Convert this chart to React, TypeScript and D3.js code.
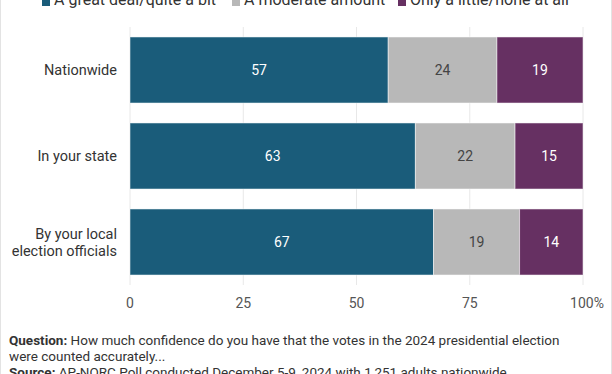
import React from 'react';
import * as d3 from 'd3';

// Chart data
const categories = ['Nationwide', 'In your state', 'By your local election officials'];
const seriesNames = ['A great deal/quite a bit', 'A moderate amount', 'Only a little/none at all'];
const greatDeal = [57, 63, 67];
const moderate = [24, 22, 19];
const littleNone = [19, 15, 14];
const xTicks = [0, 25, 50, 75, 100];

const colors = ['#1a5c7a', '#b8b8b8', '#663062'];
const labelColors = ['#ffffff', '#444444', '#ffffff'];

const width = 612;
const height = 374;
const font = 'Roboto, "Noto Sans", sans-serif';

export default function App() {
  const margin = { top: 27, left: 130, right: 29 };

  const x = d3.scaleLinear().domain([0, 100]).range([margin.left, width - margin.right]);
  const y = d3.scaleBand().domain(categories).range([27, 285]).paddingInner(0.232).paddingOuter(0.116);

  const rows = categories.map((c, i) => ({ cat: c, values: [greatDeal[i], moderate[i], littleNone[i]] }));
  const stack = d3.stack<any>().keys(['0', '1', '2'])(rows.map(r => ({ ...r.values })));

  const catLines: { [k: string]: string[] } = {
    'By your local election officials': ['By your local', 'election officials'],
  };

  const legendX = [42, 232, 398];

  return (
    <svg width={width} height={height} style={{ position: 'fixed', left: 0, top: 0, background: '#fff' }} fontFamily={font}>
      <rect x={0} y={0} width={width} height={height} fill="#fff" />
      <line x1={0.5} x2={0.5} y1={0} y2={height} stroke="#e3e3e3" />
      <line x1={611.5} x2={611.5} y1={0} y2={height} stroke="#e3e3e3" />

      {/* legend */}
      {seriesNames.map((s, i) => (
        <g key={s}>
          <rect x={legendX[i]} y={-3} width={8} height={9} fill={colors[i]} />
          <text x={legendX[i] + 12} y={5} fontSize={16} fill="#333">{s}</text>
        </g>
      ))}

      {/* gridlines */}
      {xTicks.map(t => (
        <line key={t} x1={x(t)} x2={x(t)} y1={margin.top} y2={285} stroke="#e8e8e8" strokeWidth={1} />
      ))}

      {/* bars */}
      {stack.map((layer, si) =>
        layer.map((d, ci) => {
          const cat = categories[ci];
          const x0 = x(d[0]);
          const x1 = x(d[1]);
          const by = y(cat)!;
          const bh = y.bandwidth();
          return (
            <g key={`${si}-${ci}`}>
              <rect x={x0} y={by} width={x1 - x0} height={bh} fill={colors[si]} stroke="#ffffff" strokeOpacity={0.5} strokeWidth={1} />
              <text x={(x0 + x1) / 2} y={by + bh / 2} dy="0.35em" textAnchor="middle" fontSize={14} fill={labelColors[si]}>
                {d[1] - d[0]}
              </text>
            </g>
          );
        })
      )}

      {/* category labels */}
      {categories.map(c => {
        const lines = catLines[c] || [c];
        const cy = y(c)! + y.bandwidth() / 2;
        return (
          <text key={c} x={117} textAnchor="end" fontSize={14.5} fill="#333">
            {lines.map((l, li) => (
              <tspan key={li} x={117} y={cy + (li - (lines.length - 1) / 2) * 17} dy="0.35em">{l}</tspan>
            ))}
          </text>
        );
      })}

      {/* x tick labels */}
      {xTicks.map(t => (
        <text key={t} x={t === 100 ? x(t) + 4 : x(t)} y={303} dy="0.35em" textAnchor="middle" fontSize={14} fill="#555">
          {t === 100 ? '100%' : t}
        </text>
      ))}

      {/* footnote */}
      <text x={9} y={345} fontSize={13.5} fill="#333">
        <tspan fontWeight="bold">Question:</tspan> How much confidence do you have that the votes in the 2024 presidential election
      </text>
      <text x={9} y={361} fontSize={13.5} fill="#333">were counted accurately...</text>
      <text x={9} y={377} fontSize={13.5} fill="#333">
        <tspan fontWeight="bold">Source:</tspan> AP-NORC Poll conducted December 5-9, 2024 with 1,251 adults nationwide.
      </text>
    </svg>
  );
}
